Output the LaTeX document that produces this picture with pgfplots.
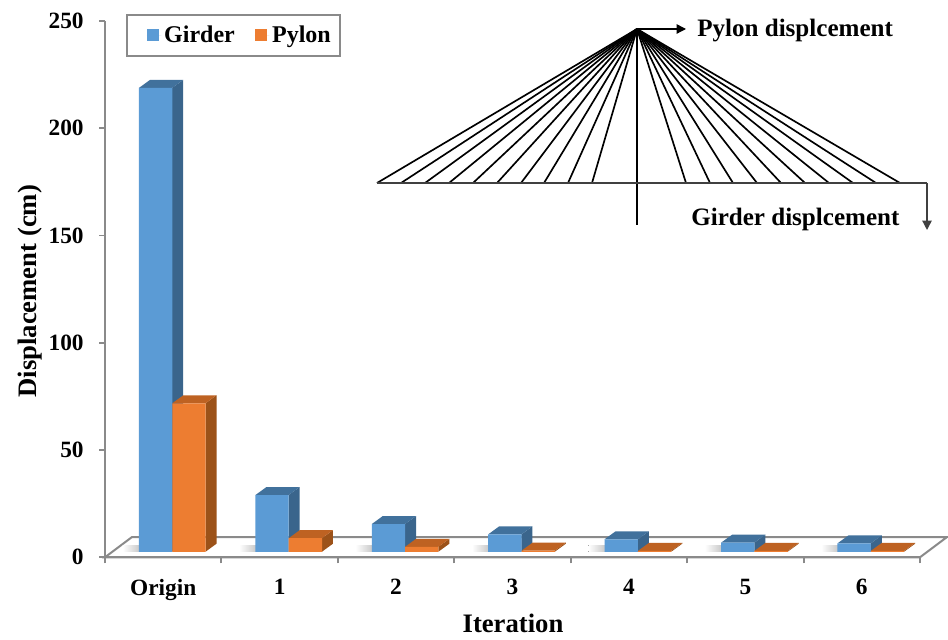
\documentclass[border=0pt]{standalone}
\usepackage{fontspec}
\usepackage{pgfplots}
\usepackage{pgfplotstable}
\pgfplotsset{compat=1.18}
\usetikzlibrary{arrows.meta}
\setmainfont{Liberation Serif}

\definecolor{girderfront}{HTML}{5B9BD5}
\definecolor{girderside}{HTML}{3A658C}
\definecolor{girdertop}{HTML}{41719C}
\definecolor{pylonfront}{HTML}{ED7D31}
\definecolor{pylonside}{HTML}{9C5219}
\definecolor{pylontop}{HTML}{BE6222}
\definecolor{axisgrey}{HTML}{8A8A8A}

% Peak displacement per iteration (cm)
\pgfplotstableread{
pos  girderx pylonx girder pylon
0    0.4345  0.7210 218.8  71.8
1    1.4345  1.7210 29.0   8.9
2    2.4345  2.7210 15.5   4.9
3    3.4345  3.7210 10.7   3.1
4    4.4345  4.7210 8.4    3.0
5    5.4345  5.7210 6.8    3.0
6    6.4345  6.7210 6.5    3.0
}\barvalues

% Pseudo-3D depth of a bar and the level of the floor under it, in axis units
\def\depthx{0.0943}
\def\depthy{3.73}
\def\baselevel{2.6}
\def\halfbar{0.1427}

% Side and top faces of a bar: centre x, value, side colour, top colour
\newcommand{\blockfaces}[4]{%
  \pgfmathsetmacro\xa{#1-\halfbar}%
  \pgfmathsetmacro\xb{#1+\halfbar}%
  \pgfmathsetmacro\xc{\xa+\depthx}%
  \pgfmathsetmacro\xd{\xb+\depthx}%
  \pgfmathsetmacro\yb{#2+\depthy}%
  \pgfmathsetmacro\yc{\baselevel+\depthy}%
  \edef\faces{%
    \noexpand\addplot[forget plot,draw=none,fill=#3] coordinates
      {(\xb,\baselevel)(\xd,\yc)(\xd,\yb)(\xb,#2)} -- cycle;
    \noexpand\addplot[forget plot,draw=none,fill=#4] coordinates
      {(\xa,#2)(\xb,#2)(\xd,\yb)(\xc,\yb)} -- cycle;
  }%
  \faces
}

% Soft shadow on the floor to the left of a bar group
\newcommand{\floorshadow}[1]{%
  \pgfmathsetmacro\sa{#1-\halfbar-0.14}%
  \pgfmathsetmacro\sb{#1-\halfbar+0.01}%
  \edef\shadow{%
    \noexpand\fill[left color=white,right color=gray!45]
      (axis cs:\sa,\baselevel) rectangle (axis cs:\sb,5.6);
  }%
  \shadow
}

\begin{document}
\begin{tikzpicture}
\useasboundingbox (0,0) rectangle (711pt,479.25pt);

\begin{axis}[
  at={(78.75pt,61.3pt)}, anchor=south west,
  scale only axis, width=611.25pt, height=402.2pt,
  clip=false, axis on top,
  xmin=0, xmax=7, ymin=0, ymax=250,
  axis x line*=bottom, axis y line*=left,
  axis line style={axisgrey,line width=1.5pt},
  every tick/.style={axisgrey,line width=1.4pt},
  tick align=outside, major tick length=4.5pt,
  xtick={0,...,7},
  xticklabels={Origin,1,2,3,4,5,6},
  x tick label as interval,
  ytick={0,50,100,150,200,250},
  /pgf/number format/assume math mode=true,
  tick label style={font=\fontsize{17.5}{20}\bfseries\selectfont,black},
  xticklabel style={yshift=-8.5pt},
  yticklabel style={xshift=-8pt},
  xlabel={Iteration},
  ylabel={Displacement (cm)},
  label style={font=\fontsize{20}{23}\bfseries\selectfont},
  xlabel style={at={(axis description cs:0.5006,-0.124)},anchor=center},
  ylabel style={at={(axis description cs:-0.0925,0.496)},anchor=center},
  legend style={
    at={(axis description cs:0.0258,1.013)}, anchor=north west,
    draw=axisgrey, line width=1.2pt, fill=white,
    font=\fontsize{18}{21}\bfseries\selectfont,
    legend columns=2, inner xsep=15pt, inner ysep=6.5pt,
    /tikz/every even column/.style={column sep=13pt},
  },
  legend image code/.code={
    \fill[#1] (0pt,-4.5pt) rectangle (9pt,4.5pt);
    \path (0pt,0pt) -- (11pt,0pt);
  },
]
% Floor of the chart
\addplot[forget plot,draw=axisgrey,line width=1.5pt,fill=white]
  coordinates {(0,0)(7,0)(7.2314,9.4)(0.2314,9.4)} -- cycle;

\floorshadow{0.4345}\floorshadow{1.4345}\floorshadow{2.4345}\floorshadow{3.4345}
\floorshadow{4.4345}\floorshadow{5.4345}\floorshadow{6.4345}

% Depth faces of the girder bars
\pgfplotsinvokeforeach{0,...,6}{
  \pgfplotstablegetelem{#1}{girder}\of\barvalues
  \let\val\pgfplotsretval
  \pgfplotstablegetelem{#1}{girderx}\of\barvalues
  \blockfaces{\pgfplotsretval}{\val}{girderside}{girdertop}
}
\addplot[ybar,bar width=25pt,bar shift=0pt,draw=none,fill=girderfront]
  table[x=girderx,y=girder]{\barvalues};
\addlegendentry{Girder}

% Depth faces of the pylon bars
\pgfplotsinvokeforeach{0,...,6}{
  \pgfplotstablegetelem{#1}{pylon}\of\barvalues
  \let\val\pgfplotsretval
  \pgfplotstablegetelem{#1}{pylonx}\of\barvalues
  \blockfaces{\pgfplotsretval}{\val}{pylonside}{pylontop}
}
\addplot[ybar,bar width=25pt,bar shift=0pt,draw=none,fill=pylonfront]
  table[x=pylonx,y=pylon]{\barvalues};
\addlegendentry{Pylon\hspace*{-10pt}}

% Bars stand on the floor, above the front edge
\fill[white] (axis cs:0.25,0.3) rectangle (axis cs:6.95,2.6);
\end{axis}

% Cable-stayed bridge sketch, in a top-down coordinate frame
\begin{scope}[x=0.75pt,y=-0.75pt,shift={(0pt,479.25pt)}]
  \def\apx{637}\def\apy{29}\def\dky{183}
  \foreach \cx in {377,401,425,449,473,497,521,544,568,592,
                   686,710,733,757,781,805,829,853,876,900}
    \draw[black,line width=1.25pt] (\apx,\apy) -- (\cx,\dky);
  \draw[black,line width=1.5pt] (\apx,\apy) -- (\apx,225);
  \draw[black!75,line width=1.5pt] (377,\dky) -- (927,\dky);
  \draw[black!75,line width=1pt,-{Triangle[length=7pt,width=7pt]}] (927,\dky) -- (927,230);
  \draw[black,line width=1pt,-{Triangle[length=7pt,width=7pt]}] (\apx,\apy) -- (686,\apy);
  \node[font=\fontsize{18.8}{22}\bfseries\selectfont,anchor=west,inner sep=0pt] at (697,31) {Pylon displcement};
  \node[font=\fontsize{18.8}{22}\bfseries\selectfont,anchor=west,inner sep=0pt] at (691,219) {Girder displcement};
\end{scope}
\end{tikzpicture}
\end{document}
